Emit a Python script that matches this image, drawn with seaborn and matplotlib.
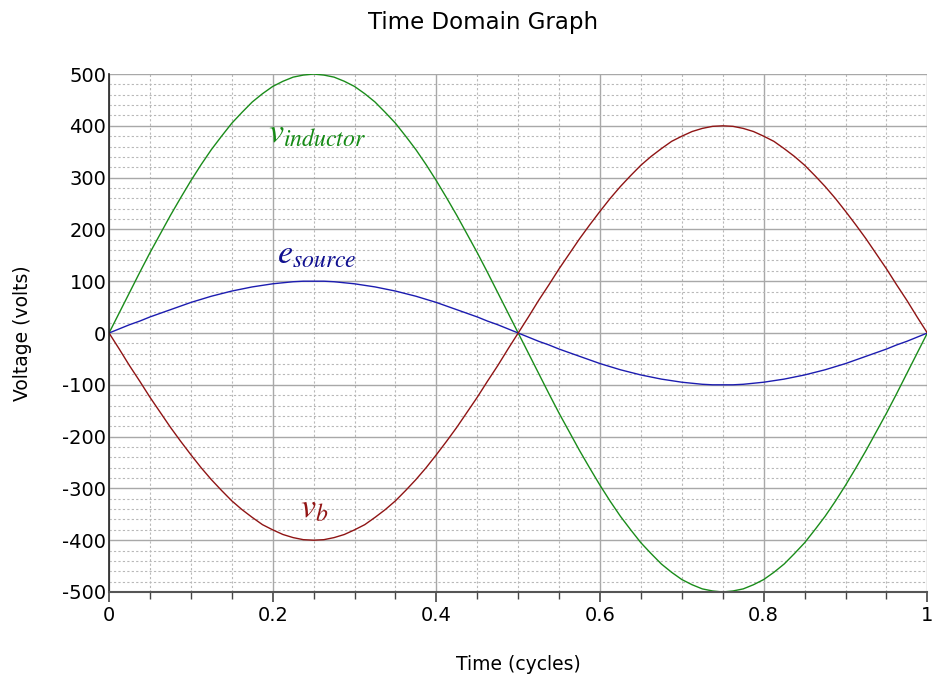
import pandas as pd
import matplotlib
matplotlib.use("Agg")
import matplotlib.pyplot as plt
import seaborn as sns
from matplotlib.ticker import MultipleLocator

# time samples (cycles)
time = [0.0, 0.0125, 0.025, 0.0375, 0.05, 0.0625, 0.075, 0.0875, 0.1, 0.1125,
        0.125, 0.1375, 0.15, 0.1625, 0.175, 0.1875, 0.2, 0.2125, 0.225, 0.2375,
        0.25, 0.2625, 0.275, 0.2875, 0.3, 0.3125, 0.325, 0.3375, 0.35, 0.3625,
        0.375, 0.3875, 0.4, 0.4125, 0.425, 0.4375, 0.45, 0.4625, 0.475, 0.4875,
        0.5, 0.5125, 0.525, 0.5375, 0.55, 0.5625, 0.575, 0.5875, 0.6, 0.6125,
        0.625, 0.6375, 0.65, 0.6625, 0.675, 0.6875, 0.7, 0.7125, 0.725, 0.7375,
        0.75, 0.7625, 0.775, 0.7875, 0.8, 0.8125, 0.825, 0.8375, 0.85, 0.8625,
        0.875, 0.8875, 0.9, 0.9125, 0.925, 0.9375, 0.95, 0.9625, 0.975, 0.9875,
        1.0]

# values (volts)
v_inductor = [0, 39, 78, 117, 155, 191, 227, 261, 294, 325,
              354, 380, 405, 426, 446, 462, 476, 486, 494, 498,
              500, 498, 494, 486, 476, 462, 446, 426, 405, 380,
              354, 325, 294, 261, 227, 191, 155, 117, 78, 39,
              0, -39, -78, -117, -155, -191, -227, -261, -294, -325,
              -354, -380, -405, -426, -446, -462, -476, -486, -494, -498,
              -500, -498, -494, -486, -476, -462, -446, -426, -405, -380,
              -354, -325, -294, -261, -227, -191, -155, -117, -78, -39,
              0]
e_source = [0, 8, 16, 23, 31, 38, 45, 52, 59, 65,
            71, 76, 81, 85, 89, 92, 95, 97, 99, 100,
            100, 100, 99, 97, 95, 92, 89, 85, 81, 76,
            71, 65, 59, 52, 45, 38, 31, 23, 16, 8,
            0, -8, -16, -23, -31, -38, -45, -52, -59, -65,
            -71, -76, -81, -85, -89, -92, -95, -97, -99, -100,
            -100, -100, -99, -97, -95, -92, -89, -85, -81, -76,
            -71, -65, -59, -52, -45, -38, -31, -23, -16, -8,
            0]
v_b = [0, -31, -63, -93, -124, -153, -182, -209, -235, -260,
       -283, -304, -324, -341, -356, -370, -380, -389, -395, -399,
       -400, -399, -395, -389, -380, -370, -356, -341, -324, -304,
       -283, -260, -235, -209, -182, -153, -124, -93, -63, -31,
       0, 31, 63, 93, 124, 153, 182, 209, 235, 260,
       283, 304, 324, 341, 356, 370, 380, 389, 395, 399,
       400, 399, 395, 389, 380, 370, 356, 341, 324, 304,
       283, 260, 235, 209, 182, 153, 124, 93, 63, 31,
       0]

x_ticks = [0, 0.2, 0.4, 0.6, 0.8, 1.0]
x_tick_labels = ["0", "0.2", "0.4", "0.6", "0.8", "1"]

series = {"v_inductor": v_inductor, "e_source": e_source, "v_b": v_b}
colors = {"v_inductor": "#1a8c1a", "e_source": "#1c1cb0", "v_b": "#8f1414"}

df = pd.concat(
    [pd.DataFrame({"time": time, "voltage": vals, "signal": name})
     for name, vals in series.items()],
    ignore_index=True,
)

sns.set_style("white")
plt.rcParams["font.family"] = ["DejaVu Sans"]
plt.rcParams["mathtext.fontset"] = "stix"
plt.rcParams["axes.unicode_minus"] = False
plt.rcParams["text.color"] = "black"
plt.rcParams["xtick.labelcolor"] = "black"
plt.rcParams["ytick.labelcolor"] = "black"

fig = plt.figure(figsize=(9.32, 6.81), dpi=100)
ax = fig.add_axes([0.117, 0.1307, 0.878, 0.7606])

sns.lineplot(data=df, x="time", y="voltage", hue="signal", palette=colors,
             linewidth=1.0, legend=False, ax=ax, sort=False)

ax.set_xlim(0, 1)
ax.set_ylim(-500, 500)
ax.xaxis.set_minor_locator(MultipleLocator(0.05))
ax.yaxis.set_major_locator(MultipleLocator(100))
ax.yaxis.set_minor_locator(MultipleLocator(20))
ax.set_xticks(x_ticks)
ax.set_xticklabels(x_tick_labels)

ax.grid(which="major", color="#a8a8a8", linewidth=1.0, linestyle="-")
ax.grid(which="minor", color="#b8b8b8", linewidth=0.8, linestyle=(0, (2, 2)))
ax.set_axisbelow(True)

for side in ["top", "right"]:
    ax.spines[side].set_visible(False)
ax.spines["left"].set_color("#222222")
ax.spines["left"].set_linewidth(1.2)
ax.spines["bottom"].set_color("#555555")
ax.spines["bottom"].set_linewidth(1.5)

ax.tick_params(axis="x", which="major", direction="out", length=7, width=1.2,
               color="#444444", labelsize=14, pad=3, bottom=True)
ax.tick_params(axis="x", which="minor", direction="out", length=5, width=1.0,
               color="#444444", bottom=True)
ax.tick_params(axis="y", which="both", length=0, labelsize=14, pad=2, left=True)

ax.set_xlabel("")
ax.set_ylabel("")

# curve labels
ax.text(0.194, 367, r"$v_{inductor}$", color="#158a15", fontsize=24.5,
        ha="left", va="baseline")
ax.text(0.205, 135, r"$e_{source}$", color="#101090", fontsize=24.5,
        ha="left", va="baseline")
ax.text(0.233, -357, r"$v_{b}$", color="#921515", fontsize=24.5,
        ha="left", va="baseline")

fig.text(0.518, 1 - 22 / 681, "Time Domain Graph", ha="center", va="center",
         fontsize=16.5)
fig.text(0.556, 1 - 665 / 681, "Time (cycles)", ha="center", va="center",
         fontsize=13.5)
fig.text(0.024, 1 - 333 / 681, "Voltage (volts)", ha="center", va="center",
         rotation=90, fontsize=13.5)

fig.savefig("out.png", dpi=100)
